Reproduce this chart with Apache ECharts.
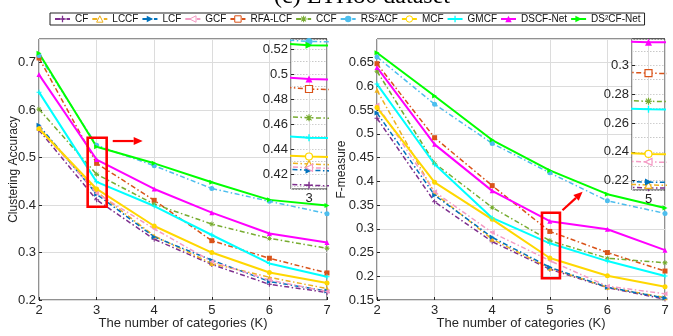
<!DOCTYPE html>
<html><head><meta charset="utf-8">
<script src="https://cdn.jsdelivr.net/npm/echarts@6/dist/echarts.min.js"></script>
<style>html,body{margin:0;padding:0;background:#fff}#c{width:673px;height:336px}</style>
</head><body><div id="c"></div>
<script>
// ---------- data ----------
const categories = [2, 3, 4, 5, 6, 7];
const seriesNames = ['CF','LCCF','LCF','GCF','RFA-LCF','CCF','RS²ACF','MCF','GMCF','DSCF-Net','DS²CF-Net'];
// Clustering Accuracy
const accCF     = [0.558, 0.411, 0.328, 0.275, 0.233, 0.216];
const accLCCF   = [0.565, 0.428, 0.335, 0.277, 0.248, 0.224];
const accLCF    = [0.568, 0.423, 0.333, 0.284, 0.239, 0.219];
const accGCF    = [0.562, 0.425, 0.350, 0.281, 0.242, 0.218];
const accRFALCF = [0.710, 0.488, 0.410, 0.325, 0.288, 0.257];
const accCCF    = [0.602, 0.465, 0.402, 0.360, 0.330, 0.309];
const accRS2ACF = [0.715, 0.526, 0.483, 0.435, 0.408, 0.382];
const accMCF    = [0.561, 0.434, 0.356, 0.300, 0.258, 0.236];
const accGMCF   = [0.638, 0.449, 0.398, 0.337, 0.277, 0.249];
const accDSCF   = [0.675, 0.496, 0.434, 0.384, 0.340, 0.321];
const accDS2CF  = [0.720, 0.523, 0.488, 0.448, 0.411, 0.399];
// F-measure
const fmCF      = [0.533, 0.357, 0.273, 0.215, 0.176, 0.152];
const fmLCCF    = [0.592, 0.375, 0.278, 0.217, 0.177, 0.155];
const fmLCF     = [0.544, 0.371, 0.282, 0.219, 0.177, 0.154];
const fmGCF     = [0.561, 0.378, 0.292, 0.233, 0.179, 0.163];
const fmRFALCF  = [0.648, 0.492, 0.391, 0.2945, 0.250, 0.211];
const fmCCF     = [0.632, 0.438, 0.345, 0.275, 0.238, 0.2285];
const fmRS2ACF  = [0.662, 0.5625, 0.480, 0.418, 0.359, 0.3325];
const fmMCF     = [0.5555, 0.398, 0.320, 0.2385, 0.201, 0.178];
const fmGMCF    = [0.605, 0.436, 0.323, 0.2695, 0.232, 0.2005];
const fmDSCF    = [0.640, 0.478, 0.380, 0.316, 0.299, 0.255];
const fmDS2CF   = [0.671, 0.580, 0.487, 0.423, 0.373, 0.344];

const accData = [accCF, accLCCF, accLCF, accGCF, accRFALCF, accCCF, accRS2ACF, accMCF, accGMCF, accDSCF, accDS2CF];
const fmData  = [fmCF, fmLCCF, fmLCF, fmGCF, fmRFALCF, fmCCF, fmRS2ACF, fmMCF, fmGMCF, fmDSCF, fmDS2CF];

// ---------- styles ----------
const PLUS = 'path://M-1,-5L1,-5L1,-1L5,-1L5,1L1,1L1,5L-1,5L-1,1L-5,1L-5,-1L-1,-1Z';
const STAR = 'path://M-0.8,-5L0.8,-5L0.8,-0.8L5,-0.8L5,0.8L0.8,0.8L0.8,5L-0.8,5L-0.8,0.8L-5,0.8L-5,-0.8L-0.8,-0.8Z' +
             'M-4.2,-3.2L-3.2,-4.2L4.2,3.2L3.2,4.2Z M3.2,-4.2L4.2,-3.2L-3.2,4.2L-4.2,3.2Z';
const TRI_R = 'path://M0,0L10,5L0,10Z';
const TRI_L = 'path://M10,0L0,5L10,10Z';
const styles = [
  {color:'#7E2F8E', dash:true,  symbol:PLUS,      hollow:false},
  {color:'#EDB120', dash:true,  symbol:'triangle',hollow:true},
  {color:'#0072BD', dash:true,  symbol:TRI_R,     hollow:false},
  {color:'#F49AC4', dash:true,  symbol:TRI_L,     hollow:true},
  {color:'#D95319', dash:true,  symbol:'rect',    hollow:true},
  {color:'#77AC30', dash:true,  symbol:STAR,      hollow:false},
  {color:'#4DBEEE', dash:true,  symbol:'circle',  hollow:false},
  {color:'#FFD700', dash:false, symbol:'circle',  hollow:true},
  {color:'#00FFFF', dash:false, symbol:PLUS,      hollow:false},
  {color:'#FF00FF', dash:false, symbol:'triangle',hollow:false},
  {color:'#00FF00', dash:false, symbol:TRI_R,     hollow:false}
];
const DASHDOT = [5, 2.5, 1.5, 2.5];
const FONT = 'Liberation Sans';
const TXT = '#262626';
const GRIDC = '#dcdcdc';

function mkSeries(i, vals, xi, yi, inset) {
  const s = styles[i];
  const hollow = inset && s.hollow;
  return {
    type: 'line', name: seriesNames[i], xAxisIndex: xi, yAxisIndex: yi,
    data: categories.map((c, k) => [c, vals[k]]),
    symbol: s.symbol, symbolSize: inset ? 7 : 5, showSymbol: true,
    lineStyle: {color: s.color, width: s.dash ? 1.5 : 2, type: s.dash ? DASHDOT : 'solid'},
    itemStyle: {color: hollow ? '#fff' : s.color, borderColor: s.color, borderWidth: hollow ? 1.2 : 0},
    z: inset ? 6 : 2, silent: true, emphasis: {disabled: true}, clip: true, animation: false
  };
}

function mainX(gi) {
  return {
    type: 'value', gridIndex: gi, min: 2, max: 7, interval: 1,
    name: 'The number of categories (K)', nameLocation: 'middle', nameGap: 17, nameMoveOverlap: false,
    nameTextStyle: {fontFamily: FONT, fontSize: 13, color: TXT},
    axisLine: {show: false},
    axisTick: {show: true, inside: true, length: 3, lineStyle: {color: TXT}},
    axisLabel: {fontFamily: FONT, fontSize: 13, color: TXT, margin: 4},
    splitLine: {show: true, lineStyle: {color: GRIDC, width: 1}}
  };
}
function mainY(gi, min, max, interval, name, gap) {
  return {
    type: 'value', gridIndex: gi, min: min, max: max, interval: interval,
    name: name, nameLocation: 'middle', nameGap: gap, nameMoveOverlap: false,
    nameTextStyle: {fontFamily: FONT, fontSize: 12, color: TXT},
    axisLine: {show: false},
    axisTick: {show: true, inside: true, length: 3, lineStyle: {color: TXT}},
    axisLabel: {fontFamily: FONT, fontSize: 13, color: TXT, margin: 3, showMaxLabel: false},
    splitLine: {show: true, lineStyle: {color: GRIDC, width: 1}}
  };
}
function insetX(gi, min, max) {
  return {
    type: 'value', gridIndex: gi, min: min, max: max, interval: 0.005, z: 5,
    axisLine: {show: false},
    axisTick: {show: false},
    axisLabel: {fontFamily: FONT, fontSize: 13, color: TXT, margin: 3, showMinLabel: false, showMaxLabel: false,
                formatter: v => Number(v).toFixed(0)},
    splitLine: {show: true, lineStyle: {color: GRIDC, width: 1}}
  };
}
function insetY(gi, min, max, splitNumber) {
  return {
    type: 'value', gridIndex: gi, min: min, max: max, splitNumber: splitNumber, z: 5,
    axisLine: {show: false},
    axisTick: {show: true, inside: true, length: 3, lineStyle: {color: TXT}},
    minorTick: {show: false, splitNumber: 2},
    minorSplitLine: {show: true, lineStyle: {color: '#c8c8c8', type: [1.5, 1.5], width: 1}},
    axisLabel: {fontFamily: FONT, fontSize: 13, color: TXT, margin: 3, showMinLabel: false, showMaxLabel: false},
    splitLine: {show: true, lineStyle: {color: '#cfcfcf', width: 1, type: [1.5, 1.5]}}
  };
}

const series = [];
accData.forEach((v, i) => series.push(mkSeries(i, v, 0, 0, false)));
fmData.forEach((v, i) => series.push(mkSeries(i, v, 1, 1, false)));
accData.forEach((v, i) => series.push(mkSeries(i, v, 2, 2, true)));
fmData.forEach((v, i) => series.push(mkSeries(i, v, 3, 3, true)));

const legendData = seriesNames.map((n, i) => styles[i].hollow
  ? {name: n, itemStyle: {color: '#fff', borderColor: styles[i].color, borderWidth: 1}}
  : n);

const gridBox = {show: true, borderColor: '#222', borderWidth: 1, backgroundColor: 'transparent'};
const option = {
  animation: false,
  backgroundColor: '#fff',
  legend: {
    data: legendData, left: 50, top: 13, width: 620, orient: 'horizontal',
    itemWidth: 15, itemHeight: 8, itemGap: 3, padding: [1, 4],
    borderColor: '#222', borderWidth: 1, selectedMode: false,
    textStyle: {fontFamily: FONT, fontSize: 10, color: '#111'}
  },
  grid: [
    Object.assign({left: 39, top: 39, width: 288, height: 261, z: 0}, gridBox),
    Object.assign({left: 377, top: 39, width: 288, height: 261, z: 0}, gridBox),
    Object.assign({}, gridBox, {left: 291, top: 39, width: 36, height: 150, z: 4, backgroundColor: '#fff'}),
    Object.assign({}, gridBox, {left: 632, top: 39, width: 33, height: 151, z: 4, backgroundColor: '#fff'})
  ],
  xAxis: [mainX(0), mainX(1), insetX(2, 2.995, 3.005), insetX(3, 4.995, 5.005)],
  yAxis: [
    mainY(0, 0.2, 0.75, 0.1, 'Clustering Accuracy', 19),
    mainY(1, 0.15, 0.70, 0.05, 'F-measure', 29),
    insetY(2, 0.408, 0.528, 6),
    insetY(3, 0.2135, 0.3182, 5)
  ],
  series: series
};

const chart = echarts.init(document.getElementById('c'), null, {renderer: 'canvas'});
chart.setOption(option);

// ---------- annotations (data coordinates) ----------
const zoomBoxes = [
  {grid: 0, x0: 2.845, x1: 3.175, y0: 0.3965, y1: 0.542},
  {grid: 1, x0: 4.864, x1: 5.176, y0: 0.1957, y1: 0.334}
];
const arrows = [
  {grid: 0, from: [3.28, 0.535], to: [3.80, 0.535]},
  {grid: 1, from: [5.22, 0.339], to: [5.57, 0.378]}
];
const elements = [];
zoomBoxes.forEach(b => {
  const p0 = chart.convertToPixel({gridIndex: b.grid}, [b.x0, b.y1]);
  const p1 = chart.convertToPixel({gridIndex: b.grid}, [b.x1, b.y0]);
  elements.push({type: 'rect', z: 100, shape: {x: p0[0], y: p0[1], width: p1[0] - p0[0], height: p1[1] - p0[1]},
    style: {fill: 'none', stroke: '#FF0000', lineWidth: 2.6}});
});
arrows.forEach(a => {
  const p0 = chart.convertToPixel({gridIndex: a.grid}, a.from);
  const p1 = chart.convertToPixel({gridIndex: a.grid}, a.to);
  const dx = p1[0] - p0[0], dy = p1[1] - p0[1];
  const L = Math.sqrt(dx * dx + dy * dy), ux = dx / L, uy = dy / L;
  const hl = 9, hw = 4;
  const bx = p1[0] - ux * hl, by = p1[1] - uy * hl;
  elements.push({type: 'line', z: 100, shape: {x1: p0[0], y1: p0[1], x2: bx, y2: by},
    style: {stroke: '#FF0000', lineWidth: 2.2}});
  elements.push({type: 'polygon', z: 100, shape: {points: [[p1[0], p1[1]], [bx - uy * hw, by + ux * hw], [bx + uy * hw, by - ux * hw]]},
    style: {fill: '#FF0000'}});
});
elements.push({type: 'text', z: 100, x: 362, y: -3.5,
  style: {text: '(c) ETH80 dataset', font: '24px "Liberation Serif"', fill: '#000', align: 'center', verticalAlign: 'middle'}});
chart.setOption({graphic: {elements: elements}});
</script>
</body></html>
